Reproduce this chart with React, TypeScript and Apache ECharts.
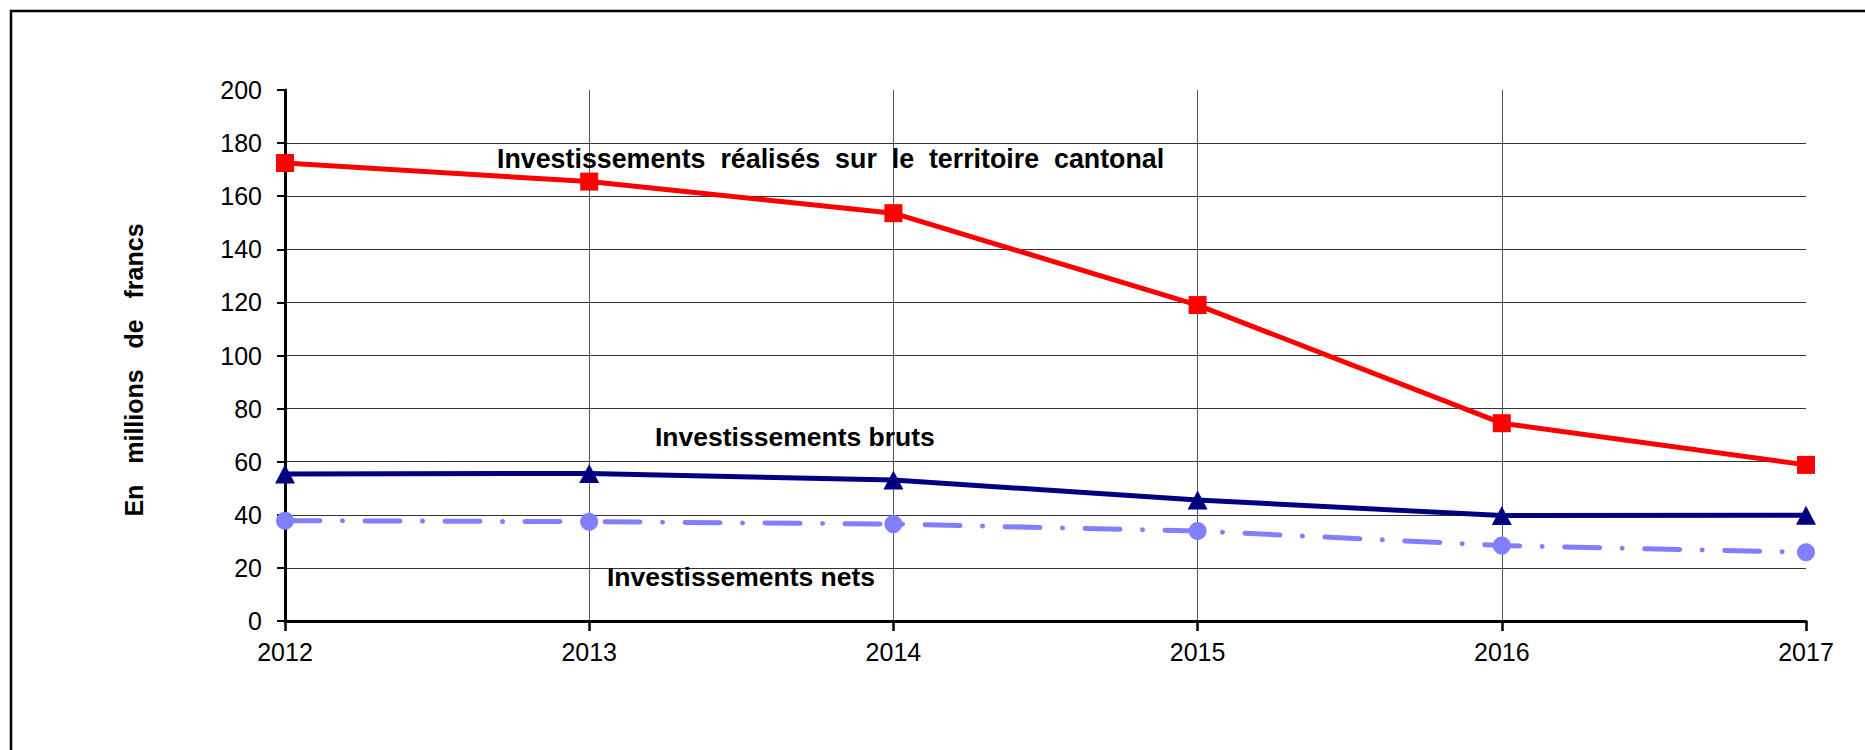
import React, { useEffect, useRef } from "react";
import * as echarts from "echarts";

const years = ["2012", "2013", "2014", "2015", "2016", "2017"];
const realises = [172.5, 165.5, 153.6, 119, 74.5, 58.8];
const bruts = [55.4, 55.6, 53.1, 45.6, 39.7, 39.8];
const nets = [37.8, 37.4, 36.5, 33.9, 28.4, 25.9];

const yMin = 0;
const yMax = 200;
const yStep = 20;

const NB = "\u00A0";
const labelRealises = ["Investissements", "réalisés", "sur", "le", "territoire", "cantonal"].join(" " + NB);
const labelBruts = "Investissements bruts";
const labelNets = "Investissements nets";
const yName = ["En", "millions", "de", "francs"].join(" " + NB + NB);

const FONT = "'Liberation Sans', Arial, Helvetica, sans-serif";

export default function App() {
  const ref = useRef<HTMLDivElement>(null);

  useEffect(() => {
    if (!ref.current) return;
    const chart = echarts.init(ref.current, undefined, { renderer: "svg" });
    chart.setOption({
      animation: false,
      backgroundColor: "#ffffff",
      textStyle: { fontFamily: FONT },
      grid: {
        left: 285,
        right: 59,
        top: 90,
        bottom: 129,
        containLabel: false,
        outerBoundsMode: "none",
      },
      xAxis: {
        type: "category",
        data: years,
        boundaryGap: false,
        axisLine: { show: true, lineStyle: { color: "#000", width: 3 } },
        axisTick: { show: true, length: 10, lineStyle: { color: "#000", width: 2.5 } },
        axisLabel: { color: "#000", fontSize: 25, fontFamily: FONT, margin: 18 },
        splitLine: {
          show: true,
          showMinLine: false,
          showMaxLine: false,
          lineStyle: { color: "#555", width: 1 },
        },
      },
      yAxis: {
        type: "value",
        min: yMin,
        max: yMax,
        interval: yStep,
        axisLine: { show: true, lineStyle: { color: "#000", width: 3 } },
        axisTick: { show: true, length: 8, lineStyle: { color: "#000", width: 2 } },
        axisLabel: { color: "#000", fontSize: 25, fontFamily: FONT, margin: 23 },
        splitLine: {
          show: true,
          showMinLine: false,
          showMaxLine: false,
          lineStyle: { color: "#333", width: 1 },
        },
      },
      series: [
        {
          name: "Investissements nets",
          type: "line",
          data: nets,
          symbol: "circle",
          symbolSize: 18,
          itemStyle: { color: "#8080FF" },
          lineStyle: { color: "#8080FF", width: 5, type: [35, 22.5, 0.01, 22.5], cap: "round" },
          z: 3,
        },
        {
          name: "Investissements bruts",
          type: "line",
          data: bruts,
          symbol: "triangle",
          symbolSize: [20, 19],
          itemStyle: { color: "#000080" },
          lineStyle: { color: "#000080", width: 5 },
          z: 4,
        },
        {
          name: "Investissements réalisés sur le territoire cantonal",
          type: "line",
          data: realises,
          symbol: "rect",
          symbolSize: 18,
          itemStyle: { color: "#FF0000" },
          lineStyle: { color: "#FF0000", width: 5 },
          z: 5,
        },
      ],
      graphic: [
        {
          type: "rect",
          shape: { x: 11, y: 11, width: 1900, height: 800 },
          style: { fill: "none", stroke: "#000", lineWidth: 2.5 },
          silent: true,
          z: 100,
        },
        {
          type: "text",
          x: 497,
          y: 158,
          scaleX: 0.975,
          style: {
            text: labelRealises,
            font: "bold 27.5px " + FONT,
            fill: "#000",
            textAlign: "left",
            textVerticalAlign: "middle",
          },
          z: 100,
        },
        {
          type: "text",
          x: 655,
          y: 437,
          style: {
            text: labelBruts,
            font: "bold 26.5px " + FONT,
            fill: "#000",
            textAlign: "left",
            textVerticalAlign: "middle",
          },
          z: 100,
        },
        {
          type: "text",
          x: 607,
          y: 577,
          style: {
            text: labelNets,
            font: "bold 26.5px " + FONT,
            fill: "#000",
            textAlign: "left",
            textVerticalAlign: "middle",
          },
          z: 100,
        },
        {
          type: "text",
          x: 134,
          y: 370,
          rotation: Math.PI / 2,
          style: {
            text: yName,
            font: "bold 25px " + FONT,
            fill: "#000",
            textAlign: "center",
            textVerticalAlign: "middle",
          },
          z: 100,
        },
      ],
    });
    return () => {
      chart.dispose();
    };
  }, []);

  return (
    <div
      ref={ref}
      style={{ position: "absolute", left: 0, top: 0, width: 1865, height: 750 }}
    />
  );
}
